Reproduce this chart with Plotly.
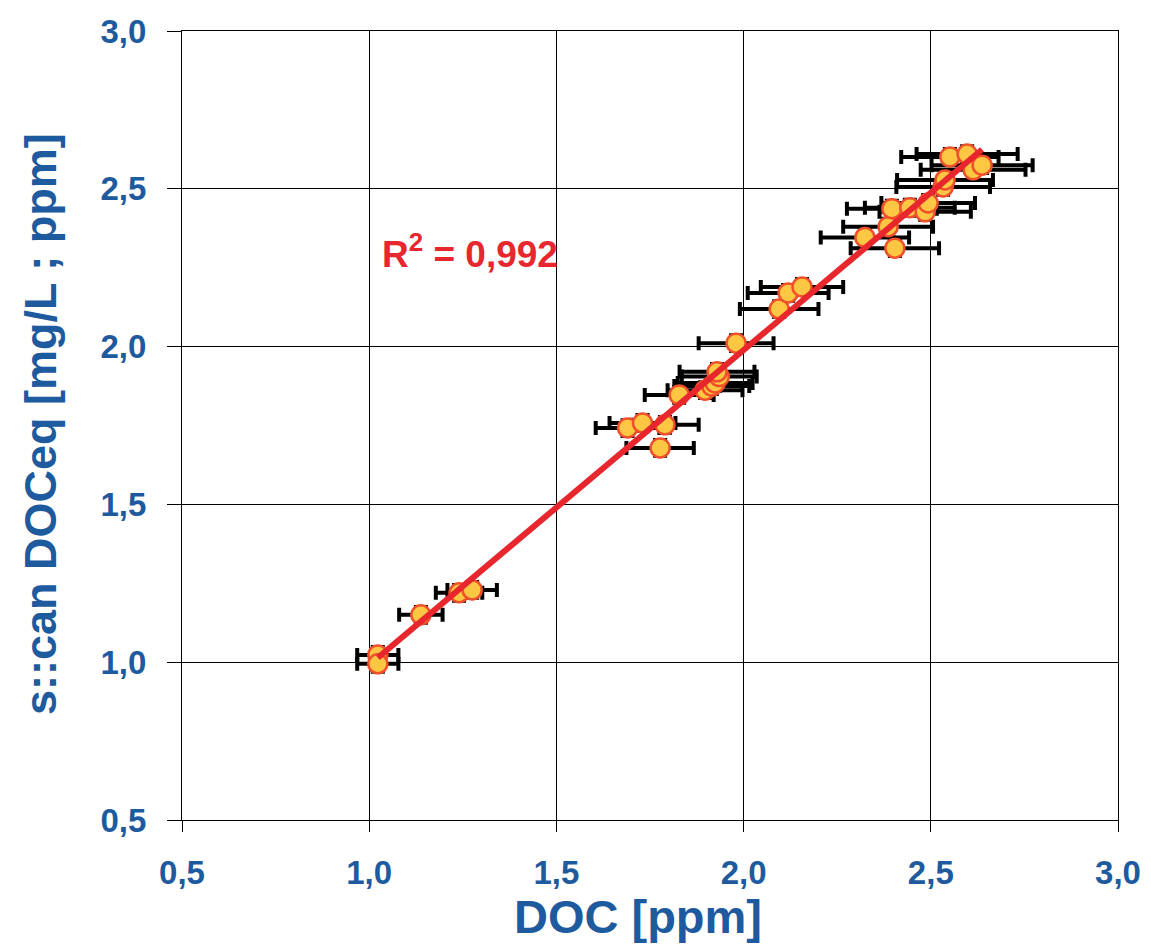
import numpy as np
import plotly.graph_objects as go

doc_x = [1.023, 1.023, 1.138, 1.240, 1.275,
         1.690, 1.730, 1.790, 1.777, 1.828, 1.897, 1.915, 1.924, 1.935, 1.929, 1.980,
         2.095, 2.119, 2.156,
         2.324, 2.404, 2.386, 2.396, 2.444, 2.485, 2.493, 2.533, 2.538,
         2.551, 2.597, 2.613, 2.637]
scan_y = [1.023, 0.995, 1.150, 1.220, 1.229,
          1.742, 1.758, 1.752, 1.679, 1.847, 1.862, 1.875, 1.885, 1.905, 1.920, 2.011,
          2.119, 2.170, 2.189,
          2.346, 2.312, 2.380, 2.437, 2.440, 2.427, 2.455, 2.506, 2.528,
          2.601, 2.610, 2.560, 2.575]
err_x = [0.055, 0.055, 0.058, 0.062, 0.066,
         0.085, 0.088, 0.090, 0.090, 0.092, 0.100, 0.100, 0.100, 0.100, 0.100, 0.100,
         0.105, 0.108, 0.110,
         0.118, 0.118, 0.120, 0.120, 0.120, 0.122, 0.125, 0.125, 0.128,
         0.130, 0.135, 0.140, 0.135]
err_y = [0.025, 0.025, 0.025, 0.025, 0.025,
         0.025, 0.025, 0.025, 0.025, 0.025, 0.025, 0.025, 0.025, 0.025, 0.025, 0.025,
         0.025, 0.025, 0.025,
         0.025, 0.025, 0.025, 0.025, 0.025, 0.025, 0.025, 0.025, 0.025,
         0.025, 0.025, 0.025, 0.025]
tick_vals = [0.5, 1.0, 1.5, 2.0, 2.5, 3.0]
r2_text = "R<sup>2</sup> = 0,992"
x_title = "DOC [ppm]"
y_title = "s::can DOCeq [mg/L ; ppm]"

slope, intercept = np.polyfit(doc_x, scan_y, 1)
fit_x = [min(doc_x), max(doc_x)]
fit_y = [slope * v + intercept for v in fit_x]

blue = "#1E5A9E"
font_fam = "Liberation Sans, Arial"
fig = go.Figure()
fig.add_trace(go.Scatter(
    x=doc_x, y=scan_y, mode="markers",
    marker=dict(size=19, color="#FDC743", line=dict(color="#F0502A", width=2.5)),
    error_x=dict(type="data", array=err_x, color="black", thickness=4, width=7),
    error_y=dict(type="data", array=err_y, color="black", thickness=4, width=7),
    showlegend=False,
))
fig.add_trace(go.Scatter(
    x=fit_x, y=fit_y, mode="lines",
    line=dict(color="#E8262E", width=6), showlegend=False,
))
fig.add_annotation(x=1.029, y=2.30, xref="x", yref="y", text=r2_text, showarrow=False,
                   xanchor="left", yanchor="middle",
                   font=dict(family=font_fam, size=37, color="#E8262E", weight="bold"))
fig.add_annotation(x=(638 - 182) / 936, y=(820 - 916) / 789, xref="paper", yref="paper",
                   text=x_title, showarrow=False, xanchor="center", yanchor="middle",
                   font=dict(family=font_fam, size=47, color=blue, weight="bold"))
fig.add_annotation(x=(40 - 182) / 936, y=(820 - 424) / 789, xref="paper", yref="paper",
                   text=y_title, showarrow=False, xanchor="center", yanchor="middle",
                   textangle=-90,
                   font=dict(family=font_fam, size=45, color=blue, weight="bold"))

axis_common = dict(
    range=[0.5, 3.0], tickvals=tick_vals, tickformat=".1f",
    showgrid=True, gridcolor="black", gridwidth=1,
    showline=True, linecolor="black", linewidth=1, mirror=True,
    ticks="outside", tickcolor="black", tickwidth=1,
    zeroline=False, automargin=False,
    tickfont=dict(family=font_fam, size=33, color=blue, weight="bold"),
)
fig.update_xaxes(**axis_common, ticklen=11, ticklabelstandoff=12)
fig.update_yaxes(**axis_common, ticklen=14, ticklabelstandoff=14)
fig.update_layout(
    width=1151, height=946,
    margin=dict(l=174, r=41, t=23, b=134),
    plot_bgcolor="white", paper_bgcolor="white",
    separators=",.",
)
fig.write_html("out.html")
